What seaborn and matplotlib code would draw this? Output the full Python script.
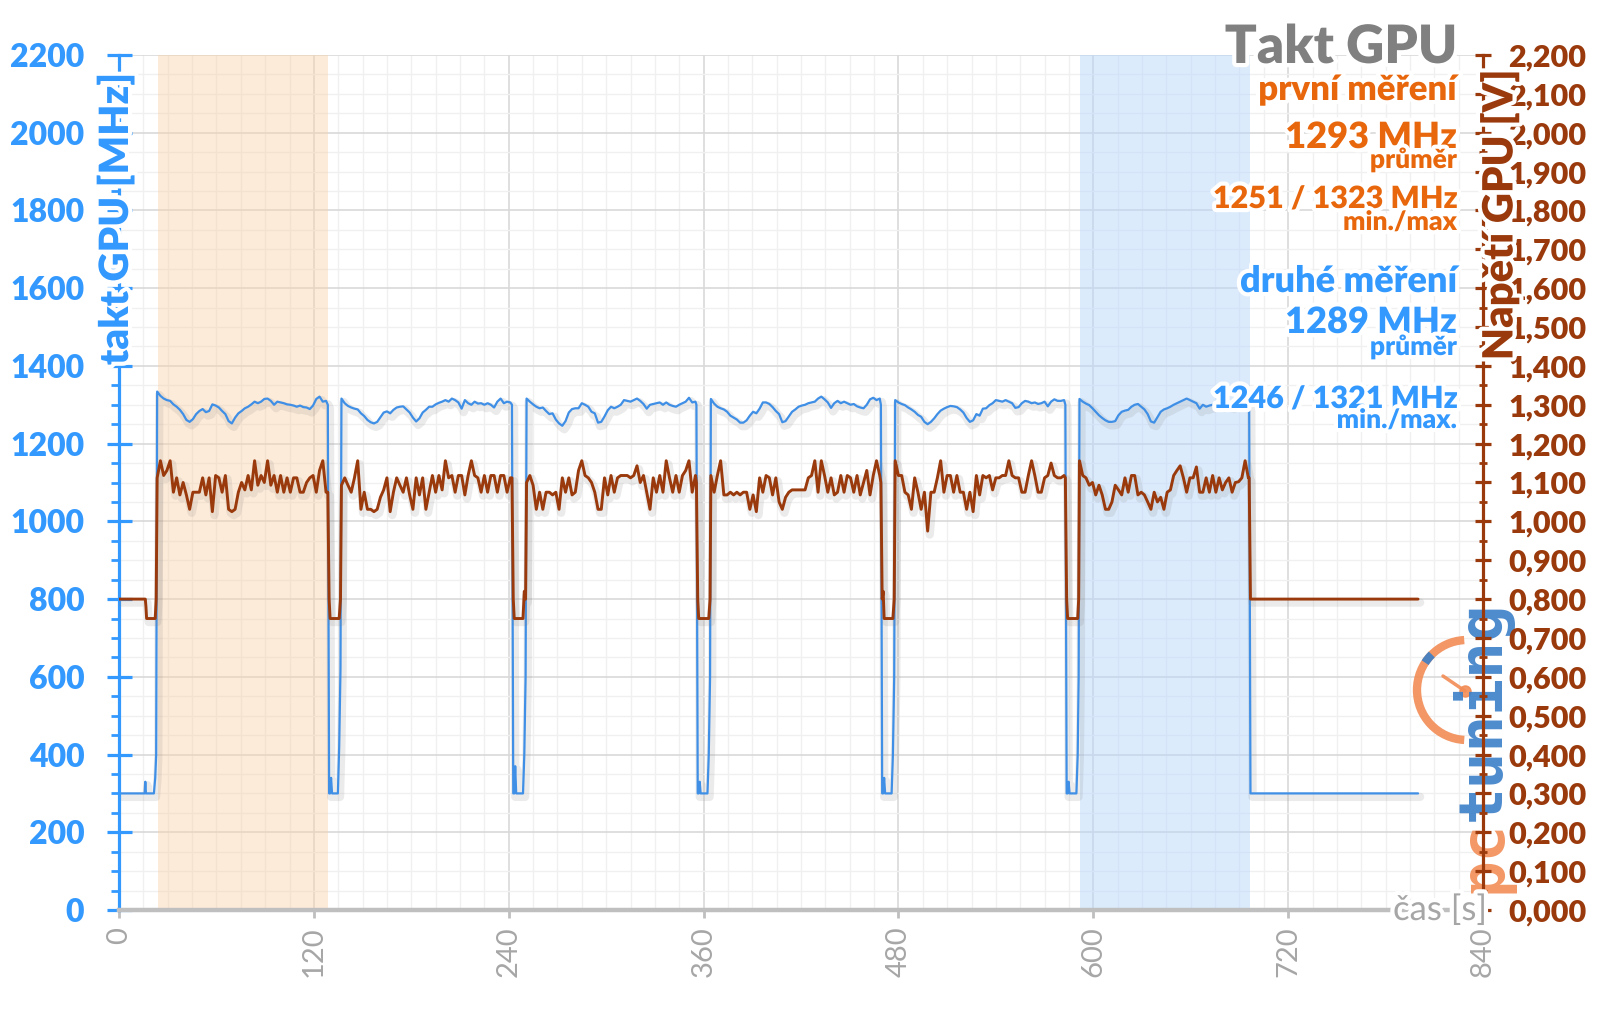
import matplotlib
matplotlib.use("Agg")
import matplotlib.pyplot as plt
import matplotlib.patheffects as pe
from matplotlib.lines import Line2D
from matplotlib.patches import Arc
from matplotlib.ticker import MultipleLocator
import numpy as np
import pandas as pd
import seaborn as sns

# --- data (clock in MHz, voltage in V) ---
LOAD_STEP = 2.0  # seconds between samples in the load runs
load_start = [23.5, 137.0, 251.0, 364.5, 478.0, 591.5]

clock_run1 = [1334, 1323, 1316, 1312, 1310, 1301, 1295, 1287, 1276, 1261,
              1256, 1263, 1276, 1284, 1289, 1281, 1284, 1301, 1298, 1293,
              1284, 1276, 1258, 1252, 1267, 1278, 1284, 1291, 1295, 1301,
              1308, 1304, 1308, 1315, 1316, 1310, 1300, 1308, 1306, 1304,
              1301, 1300, 1298, 1295, 1298, 1294, 1293, 1289, 1298, 1315,
              1321, 1308, 1310]
clock_run2 = [1316, 1304, 1297, 1293, 1290, 1288, 1278, 1271, 1261, 1255,
              1252, 1256, 1268, 1280, 1283, 1278, 1287, 1293, 1295, 1296,
              1288, 1280, 1267, 1257, 1265, 1280, 1287, 1295, 1295, 1301,
              1305, 1308, 1312, 1308, 1316, 1312, 1306, 1290, 1312, 1304,
              1300, 1308, 1303, 1304, 1300, 1304, 1300, 1293, 1308, 1316,
              1304, 1308, 1306]
clock_run3 = [1316, 1308, 1301, 1295, 1291, 1293, 1284, 1276, 1278, 1262,
              1252, 1246, 1258, 1280, 1289, 1291, 1291, 1304, 1300, 1295,
              1282, 1278, 1254, 1256, 1270, 1286, 1295, 1291, 1295, 1300,
              1312, 1310, 1308, 1312, 1316, 1310, 1302, 1290, 1300, 1302,
              1304, 1306, 1300, 1306, 1300, 1297, 1295, 1300, 1304, 1308,
              1318, 1306, 1308]
clock_run4 = [1315, 1303, 1295, 1291, 1288, 1282, 1272, 1267, 1262, 1254,
              1254, 1260, 1272, 1282, 1278, 1290, 1306, 1306, 1302, 1294,
              1284, 1276, 1255, 1258, 1270, 1282, 1288, 1295, 1298, 1300,
              1304, 1306, 1308, 1316, 1321, 1314, 1306, 1292, 1304, 1310,
              1304, 1308, 1304, 1300, 1302, 1296, 1293, 1291, 1300, 1314,
              1318, 1312, 1316]
clock_run5 = [1312, 1306, 1302, 1299, 1293, 1288, 1282, 1274, 1269, 1256,
              1250, 1256, 1265, 1276, 1285, 1290, 1294, 1297, 1296, 1294,
              1288, 1280, 1266, 1256, 1260, 1276, 1272, 1290, 1291, 1299,
              1304, 1312, 1310, 1308, 1312, 1308, 1304, 1292, 1294, 1304,
              1310, 1308, 1304, 1306, 1302, 1304, 1308, 1296, 1308, 1314,
              1310, 1310, 1312]
clock_run6 = [1315, 1308, 1303, 1299, 1291, 1282, 1273, 1266, 1260, 1256,
              1256, 1258, 1273, 1282, 1285, 1287, 1295, 1300, 1302, 1295,
              1288, 1276, 1257, 1254, 1268, 1282, 1288, 1291, 1295, 1300,
              1304, 1308, 1312, 1316, 1312, 1308, 1304, 1290, 1300, 1295,
              1298, 1300, 1302, 1304, 1300, 1306, 1302, 1298, 1304, 1310,
              1306, 1300, 1304]

volt_run1 = [1.112, 1.156, 1.118, 1.131, 1.156, 1.075, 1.112, 1.068, 1.100, 1.068,
             1.031, 1.075, 1.075, 1.075, 1.112, 1.068, 1.112, 1.025, 1.118, 1.112,
             1.075, 1.118, 1.031, 1.025, 1.031, 1.075, 1.100, 1.081, 1.118, 1.081,
             1.156, 1.093, 1.118, 1.100, 1.156, 1.093, 1.118, 1.075, 1.118, 1.075,
             1.112, 1.075, 1.112, 1.112, 1.075, 1.075, 1.100, 1.112, 1.118, 1.075,
             1.131, 1.156, 1.075]
volt_run2 = [1.093, 1.112, 1.093, 1.075, 1.112, 1.156, 1.031, 1.075, 1.031, 1.031,
             1.025, 1.031, 1.062, 1.081, 1.112, 1.025, 1.075, 1.112, 1.093, 1.075,
             1.112, 1.068, 1.031, 1.112, 1.068, 1.112, 1.031, 1.075, 1.118, 1.075,
             1.118, 1.081, 1.156, 1.112, 1.118, 1.075, 1.118, 1.118, 1.068, 1.118,
             1.156, 1.118, 1.112, 1.075, 1.118, 1.075, 1.118, 1.118, 1.075, 1.118,
             1.118, 1.075, 1.112]
volt_run3 = [1.100, 1.118, 1.093, 1.031, 1.075, 1.031, 1.075, 1.075, 1.068, 1.075,
             1.031, 1.112, 1.075, 1.112, 1.068, 1.075, 1.131, 1.156, 1.118, 1.112,
             1.100, 1.075, 1.031, 1.031, 1.112, 1.068, 1.118, 1.075, 1.112, 1.118,
             1.118, 1.118, 1.112, 1.118, 1.143, 1.100, 1.118, 1.075, 1.031, 1.112,
             1.075, 1.118, 1.075, 1.156, 1.112, 1.075, 1.118, 1.075, 1.118, 1.131,
             1.156, 1.075, 1.118]
volt_run4 = [1.118, 1.075, 1.118, 1.156, 1.068, 1.068, 1.075, 1.068, 1.075, 1.068,
             1.075, 1.075, 1.031, 1.068, 1.025, 1.112, 1.075, 1.118, 1.112, 1.068,
             1.112, 1.050, 1.031, 1.062, 1.075, 1.081, 1.081, 1.081, 1.081, 1.081,
             1.112, 1.118, 1.156, 1.075, 1.156, 1.118, 1.075, 1.112, 1.068, 1.075,
             1.118, 1.075, 1.118, 1.112, 1.075, 1.118, 1.068, 1.100, 1.131, 1.068,
             1.118, 1.156, 1.118]
volt_run5 = [1.156, 1.118, 1.118, 1.075, 1.068, 1.031, 1.112, 1.075, 1.031, 1.075,
             0.975, 1.075, 1.075, 1.112, 1.156, 1.075, 1.118, 1.118, 1.075, 1.118,
             1.075, 1.075, 1.031, 1.075, 1.025, 1.118, 1.068, 1.118, 1.112, 1.118,
             1.081, 1.112, 1.112, 1.118, 1.118, 1.156, 1.118, 1.112, 1.112, 1.075,
             1.075, 1.118, 1.156, 1.118, 1.075, 1.075, 1.112, 1.118, 1.150, 1.118,
             1.112, 1.112, 1.118]
volt_run6 = [1.156, 1.118, 1.112, 1.093, 1.100, 1.068, 1.093, 1.068, 1.031, 1.031,
             1.050, 1.093, 1.081, 1.068, 1.112, 1.075, 1.118, 1.118, 1.068, 1.075,
             1.068, 1.050, 1.031, 1.075, 1.050, 1.062, 1.031, 1.075, 1.081, 1.118,
             1.131, 1.143, 1.112, 1.075, 1.112, 1.112, 1.140, 1.075, 1.075, 1.112,
             1.075, 1.118, 1.075, 1.112, 1.081, 1.100, 1.112, 1.075, 1.100, 1.102,
             1.112, 1.156, 1.112]

# idle stretches before, between and after the runs
idle0_t = [0, 15.8, 16.2, 16.6, 17.0, 21.5, 22.3, 22.9]
idle0_clock = [300, 300, 330, 300, 300, 300, 340, 400]
idle0_volt = [0.80, 0.80, 0.80, 0.78, 0.75, 0.75, 0.75, 0.80]
idle1_t = [128.6, 129.4, 130.0, 130.6, 131.2, 134.8, 135.6, 136.4]
idle1_clock = [1300, 300, 300, 340, 300, 300, 420, 620]
idle1_volt = [1.075, 0.80, 0.75, 0.75, 0.75, 0.75, 0.75, 0.80]
idle2_t = [242.0, 242.8, 243.4, 244.0, 244.6, 248.8, 249.6, 250.4]
idle2_clock = [1300, 300, 300, 370, 300, 300, 400, 600]
idle2_volt = [1.112, 0.80, 0.75, 0.75, 0.75, 0.75, 0.82, 0.80]
idle3_t = [355.6, 356.4, 357.0, 357.6, 358.2, 362.4, 363.2, 364.0]
idle3_clock = [1300, 300, 300, 330, 300, 300, 400, 600]
idle3_volt = [1.100, 0.80, 0.75, 0.75, 0.75, 0.75, 0.75, 0.80]
idle4_t = [469.2, 470.0, 470.6, 471.2, 471.8, 475.8, 476.6, 477.4]
idle4_clock = [1300, 300, 300, 340, 300, 300, 400, 600]
idle4_volt = [1.100, 0.80, 0.82, 0.75, 0.75, 0.75, 0.75, 0.80]
idle5_t = [582.8, 583.6, 584.2, 584.8, 585.4, 589.6, 590.4, 591.0]
idle5_clock = [1300, 300, 300, 330, 300, 300, 400, 600]
idle5_volt = [1.112, 0.80, 0.75, 0.75, 0.75, 0.75, 0.75, 0.80]
idle6_t = [696.0, 696.8, 800.0]
idle6_clock = [1300, 300, 300]
idle6_volt = [1.112, 0.80, 0.80]

first_window = (24.2, 128.6)
second_window = (591.7, 696.6)

x_ticks = [0, 120, 240, 360, 480, 600, 720, 840]
clock_ticks = [0, 200, 400, 600, 800, 1000, 1200, 1400, 1600, 1800, 2000, 2200]
volt_ticks = [0.0, 0.1, 0.2, 0.3, 0.4, 0.5, 0.6, 0.7, 0.8, 0.9, 1.0, 1.1,
              1.2, 1.3, 1.4, 1.5, 1.6, 1.7, 1.8, 1.9, 2.0, 2.1, 2.2]

BLUE_LINE = "#3f8fe6"
BLUE_TXT = "#3399ff"
ORANGE_TXT = "#e8670c"
BROWN = "#9a3a0c"
GRAY = "#a6a6a6"
HEAVY = 800

W, H = 1600, 1009


def fx(px):
    return px / W


def fy(py):
    return 1 - py / H


def build_frame():
    clocks = [clock_run1, clock_run2, clock_run3, clock_run4, clock_run5, clock_run6]
    volts = [volt_run1, volt_run2, volt_run3, volt_run4, volt_run5, volt_run6]
    idle_t = [idle0_t, idle1_t, idle2_t, idle3_t, idle4_t, idle5_t, idle6_t]
    idle_c = [idle0_clock, idle1_clock, idle2_clock, idle3_clock, idle4_clock, idle5_clock, idle6_clock]
    idle_v = [idle0_volt, idle1_volt, idle2_volt, idle3_volt, idle4_volt, idle5_volt, idle6_volt]
    parts = []
    for k in range(7):
        parts.append(pd.DataFrame({"t": idle_t[k], "clock": idle_c[k], "volt": idle_v[k]}))
        if k < 6:
            t = load_start[k] + LOAD_STEP * np.arange(len(clocks[k]))
            parts.append(pd.DataFrame({"t": t, "clock": clocks[k], "volt": volts[k]}))
    return pd.concat(parts, ignore_index=True)


df = build_frame()

sns.set_theme(style="white")
plt.rcParams["font.family"] = ["Lato", "DejaVu Sans"]

fig = plt.figure(figsize=(W / 100, H / 100), dpi=100)
ax = fig.add_axes([fx(119), 1 - 910 / H, (1483 - 119) / W, (910 - 55) / H])
ax2 = ax.twinx()
ax2.set_zorder(1)

halo = [pe.withStroke(linewidth=6, foreground="white")]
shadow = [pe.SimpleLineShadow(offset=(1.5, -2.5), shadow_color="#888888", alpha=0.16, linewidth=6),
          pe.Normal()]

# shaded measurement windows
ax.axvspan(*first_window, color="#fbd3ab", alpha=0.45, lw=0, zorder=0.6)
ax.axvspan(*second_window, color="#b9d8fb", alpha=0.5, lw=0, zorder=0.6)

sns.lineplot(data=df, x="t", y="clock", ax=ax, estimator=None, sort=False,
             color=BLUE_LINE, lw=1.6, path_effects=shadow, zorder=2)
sns.lineplot(data=df, x="t", y="volt", ax=ax2, estimator=None, sort=False,
             color=BROWN, lw=2.1, path_effects=shadow, zorder=2)

ax.set_xlim(0, 840)
ax.set_ylim(0, 2200)
ax2.set_ylim(0, 2.2)
ax.set_xlabel("")
ax.set_ylabel("")
ax2.set_ylabel("")

# ticks + grid
ax.set_xticks(x_ticks, labels=[str(v) for v in x_ticks])
ax.xaxis.set_minor_locator(MultipleLocator(15))
ax.set_yticks(clock_ticks, labels=[str(v) for v in clock_ticks])
ax.yaxis.set_minor_locator(MultipleLocator(50))
ax2.set_yticks(volt_ticks, labels=[f"{v:.3f}".replace(".", ",") for v in volt_ticks])
ax2.yaxis.set_minor_locator(MultipleLocator(0.05))
ax2.set_ylim(0, 2.2)
ax.grid(which="major", color="#d9d9d9", lw=1.2)
ax.grid(which="minor", color="#f0f0f0", lw=1.0)
ax.set_axisbelow(True)

# spines
ax.spines["top"].set_visible(False)
ax2.spines["top"].set_visible(False)
ax.spines["right"].set_visible(False)
ax2.spines["left"].set_visible(False)
ax2.spines["bottom"].set_visible(False)
ax.spines["left"].set_color(BLUE_TXT)
ax.spines["left"].set_linewidth(2.3)
ax.spines["bottom"].set_color("#bfbfbf")
ax.spines["bottom"].set_linewidth(3.2)
ax2.spines["right"].set_color(BROWN)
ax2.spines["right"].set_linewidth(2.3)

ax.tick_params(axis="y", which="major", direction="inout", length=18, width=2.3,
               color=BLUE_TXT, labelcolor=BLUE_TXT, labelsize=23, pad=16, left=True)
ax.tick_params(axis="y", which="minor", direction="out", length=6, width=2.0,
               color=BLUE_TXT, left=True)
ax.tick_params(axis="x", which="major", direction="out", length=6, width=2,
               color="#bfbfbf", labelcolor=GRAY, labelsize=21, pad=6, bottom=True,
               labelrotation=90)
ax.tick_params(axis="x", which="minor", bottom=False)
ax2.tick_params(axis="y", which="major", direction="inout", length=12, width=2.3,
                color=BROWN, labelcolor=BROWN, labelsize=22, pad=12, right=True)
ax2.tick_params(axis="y", which="minor", direction="inout", length=6, width=2.0,
                color=BROWN, right=True)

# axis titles
fig.text(fx(116), fy(73), "takt GPU [MHz]", rotation=90, rotation_mode="anchor",
         ha="right", va="center", color=BLUE_TXT, fontsize=29, fontweight=HEAVY,
         path_effects=halo, zorder=4)
fig.text(fx(1500), fy(70), "Napětí GPU [V]", rotation=90, rotation_mode="anchor",
         ha="right", va="center", color=BROWN, fontsize=30, fontweight=HEAVY,
         path_effects=halo, zorder=4)
fig.text(fx(1487), fy(910), "čas [s]", ha="right", va="center", color=GRAY,
         fontsize=25, fontweight="normal", path_effects=halo, zorder=4)

# annotation block
right_x = fx(1457)
notes = [
    ("Takt GPU", 63, 38, "#808080"),
    ("první měření", 100, 25, ORANGE_TXT),
    ("1293 MHz", 148, 26, ORANGE_TXT),
    ("průměr", 168, 19, ORANGE_TXT),
    ("1251 / 1323 MHz", 208, 22, ORANGE_TXT),
    ("min./max", 230, 19, ORANGE_TXT),
    ("druhé měření", 292, 26, BLUE_TXT),
    ("1289 MHz", 333, 26, BLUE_TXT),
    ("průměr", 355, 19, BLUE_TXT),
    ("1246 / 1321 MHz", 408, 22, BLUE_TXT),
    ("min./max.", 428, 19, BLUE_TXT),
]
for txt, base, size, col in notes:
    fig.text(right_x, fy(base), txt, ha="right", va="baseline", color=col,
             fontsize=size, fontweight=HEAVY, path_effects=halo, zorder=4)

# pctuning watermark
logo_orange = "#f28c55"
logo_blue = "#3a7fc8"
fig.text(fx(1500), fy(893), "pc", rotation=90, rotation_mode="anchor", ha="left",
         va="baseline", color=logo_orange, fontsize=44, fontweight="bold",
         family="DejaVu Sans Mono", alpha=0.9, zorder=0.5)
fig.text(fx(1500), fy(821), "tuning", rotation=90, rotation_mode="anchor", ha="left",
         va="baseline", color=logo_blue, fontsize=44, fontweight="bold",
         family="DejaVu Sans Mono", alpha=0.9, zorder=0.5)
cx, cy, r = 1467, 690, 50
fig.add_artist(Arc((fx(cx), fy(cy)), 2 * r / W, 2 * r / H, theta1=92, theta2=268,
                   transform=fig.transFigure, color=logo_orange, lw=6, alpha=0.9, zorder=0.5))
fig.add_artist(Arc((fx(cx), fy(cy)), 2 * r / W, 2 * r / H, theta1=122, theta2=134,
                   transform=fig.transFigure, color=logo_blue, lw=6, alpha=0.9, zorder=0.5))
fig.add_artist(Line2D([fx(1443), fx(1465)], [fy(676), fy(691)], transform=fig.transFigure,
                      color=logo_orange, lw=2.5, marker="o", markevery=[1], markersize=8,
                      alpha=0.9, zorder=0.5))

# tick label weights: value labels heavy, time labels regular
fig.canvas.draw()
for lab in ax.get_yticklabels() + ax2.get_yticklabels():
    lab.set_fontweight(HEAVY)
for lab in ax.get_xticklabels():
    lab.set_fontweight("normal")

fig.savefig("out.png", dpi=100, facecolor="white")
